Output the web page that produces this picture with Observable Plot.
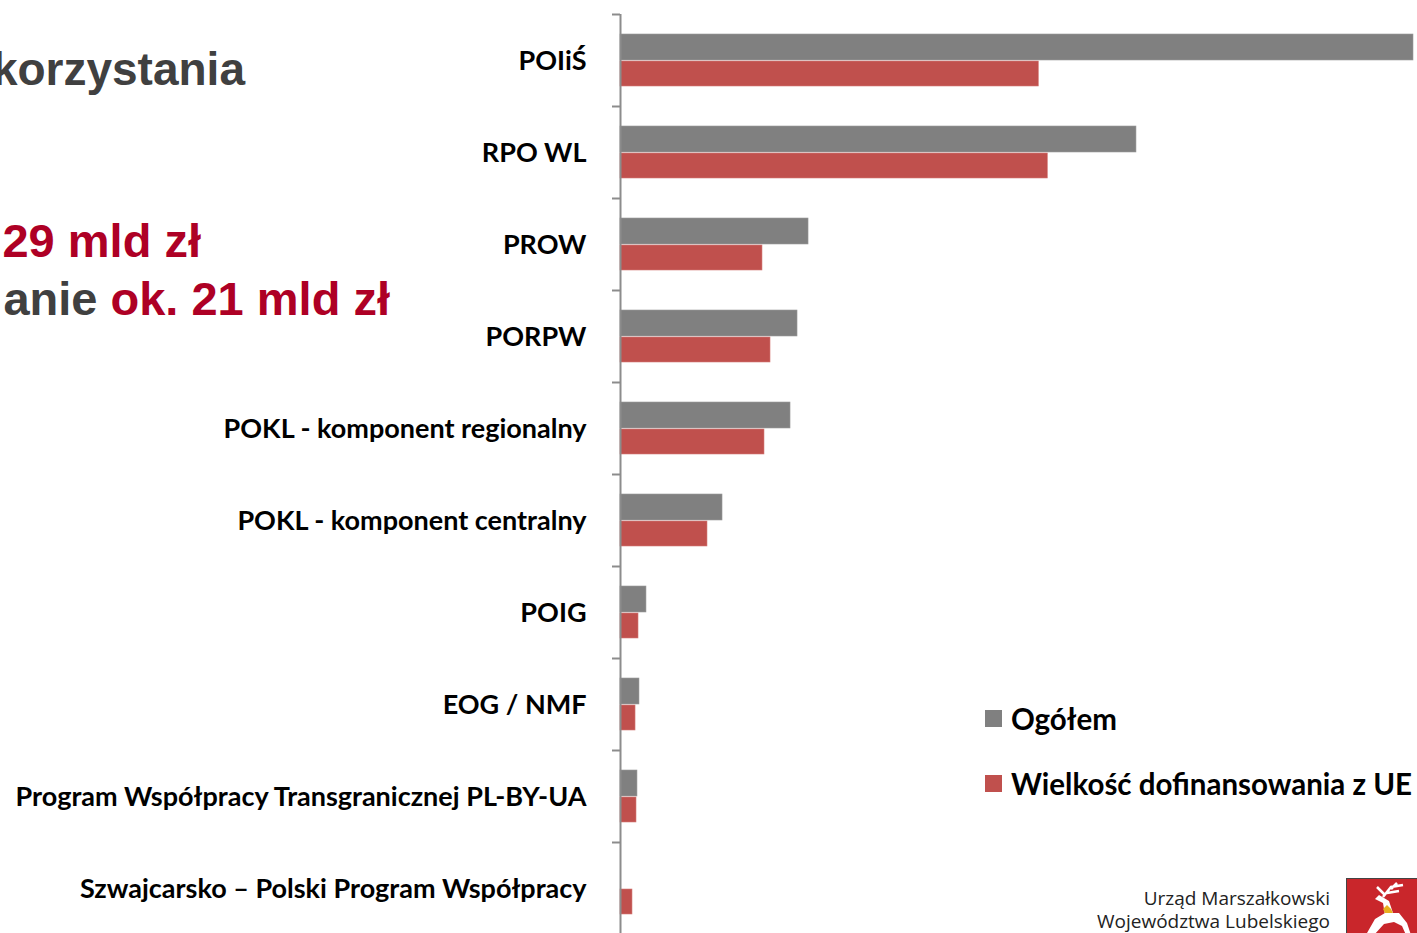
<!DOCTYPE html>
<html>
<head>
<meta charset="utf-8">
<script src="https://cdn.jsdelivr.net/npm/d3@7"></script>
<script src="https://cdn.jsdelivr.net/npm/@observablehq/plot@0.6"></script>
<style>
  html, body { margin: 0; padding: 0; width: 1417px; height: 933px; overflow: hidden; background: #fff; }
  #wrap { position: relative; width: 1417px; height: 933px; }
  .slide { position: absolute; font-family: "Liberation Sans", Arial, sans-serif; font-weight: bold; white-space: nowrap; text-align: right; }
  .legend { position: absolute; left: 985px; font-family: Lato, "Open Sans", sans-serif; font-weight: bold; font-size: 29.5px; color: #000; white-space: nowrap; display: flex; align-items: center; }
  .legend .sw { width: 17px; height: 17px; margin-right: 9px; display: inline-block; }
  .logo { position: absolute; right: 87px; font-family: "Open Sans", sans-serif; font-weight: 400; font-size: 19px; line-height: 20px; color: #222; text-align: right; white-space: nowrap; }
  .crest { position: absolute; left: 1346px; top: 878px; width: 80px; height: 60px; background: #c9262b; border: 1px solid #444; }
</style>
</head>
<body>
<div id="wrap">
  <div class="slide" style="right:1172px; top:42px; font-size:46px; color:#404040;">korzystania</div>
  <div class="slide" style="right:1216px; top:213px; font-size:47px; color:#ae0025;">29 mld zł</div>
  <div class="slide" style="right:1027px; top:271px; font-size:47px; color:#404040;">anie <span style="color:#ae0025;">ok. 21 mld zł</span></div>
  <div id="chart"></div>
  <div class="legend" style="top:701px;"><span class="sw" style="background:#808080"></span>Ogółem</div>
  <div class="legend" style="top:766px;"><span class="sw" style="background:#c0504d"></span>Wielkość dofinansowania z UE</div>
  <div class="logo" style="top:888px;">Urząd Marszałkowski</div>
  <div class="logo" style="top:911px;">Województwa Lubelskiego</div>
  <div class="crest">
    <svg width="80" height="60" viewBox="0 0 80 60">
      <path d="M20 54 L28 40 L38 34 L52 34 L60 44 L64 56 L59 56 L55 47 L47 43 L37 45 L27 56 Z" fill="#fff"/>
      <path d="M38 36 L36 24 L28 20 L32 16 L42 22 L46 34 Z" fill="#fff"/>
      <path d="M36 18 L44 8 L56 6 M40 14 L52 12 M44 10 L50 4 M38 16 L30 8" stroke="#fff" stroke-width="2.5" fill="none"/>
      <path d="M36 30 L40 26 L44 30 L46 34 L38 34 Z" fill="#e8b020"/>
    </svg>
  </div>
</div>
<script>
const categories = [
  "POIiŚ",
  "RPO WL",
  "PROW",
  "PORPW",
  "POKL - komponent regionalny",
  "POKL - komponent centralny",
  "POIG",
  "EOG / NMF",
  "Program Współpracy Transgranicznej PL-BY-UA",
  "Szwajcarsko – Polski Program Współpracy"
];
// values in mln zł
const ogolem = [11450, 7450, 2715, 2556, 2455, 1473, 375, 274, 245, 0];
const dofinansowanie = [6040, 6170, 2050, 2166, 2079, 1256, 260, 217, 231, 173];
const seriesNames = ["Ogółem", "Wielkość dofinansowania z UE"];

const grayData = categories.map((c, i) => ({category: c, value: ogolem[i], series: seriesNames[0]}));
const redData = categories.map((c, i) => ({category: c, value: dofinansowanie[i], series: seriesNames[1]}));

const chart = Plot.plot({
  width: 1417,
  height: 934,
  marginLeft: 620,
  marginRight: 4,
  marginTop: 14,
  marginBottom: 0,
  style: {background: "transparent", overflow: "visible"},
  x: {axis: null},
  y: {domain: categories, padding: 0, axis: null, label: null},
  marks: [
    Plot.barX(grayData, {y: "category", x: "value", fill: "#808080", stroke: "#9a9a9a", strokeWidth: 0.6, insetTop: 20, insetBottom: 46}),
    Plot.barX(redData, {y: "category", x: "value", fill: "#c0504d", stroke: "#d47a77", strokeWidth: 0.6, insetTop: 47, insetBottom: 20}),
    Plot.axisY({tickSize: 8, tickFormat: () => "", label: null, dy: -46, stroke: "#8c8c8c", strokeWidth: 2}),
    Plot.axisY({tickSize: 0, tickPadding: 34, label: null, dy: 1, fontSize: 27, fontWeight: "bold", fontFamily: "Lato, 'Open Sans', sans-serif", fill: "#000"}),
    Plot.ruleX([0], {stroke: "#8c8c8c", strokeWidth: 2})
  ]
});
chart.style.position = "absolute";
chart.style.left = "0px";
chart.style.top = "0px";
document.getElementById("chart").appendChild(chart);
</script>
</body>
</html>
